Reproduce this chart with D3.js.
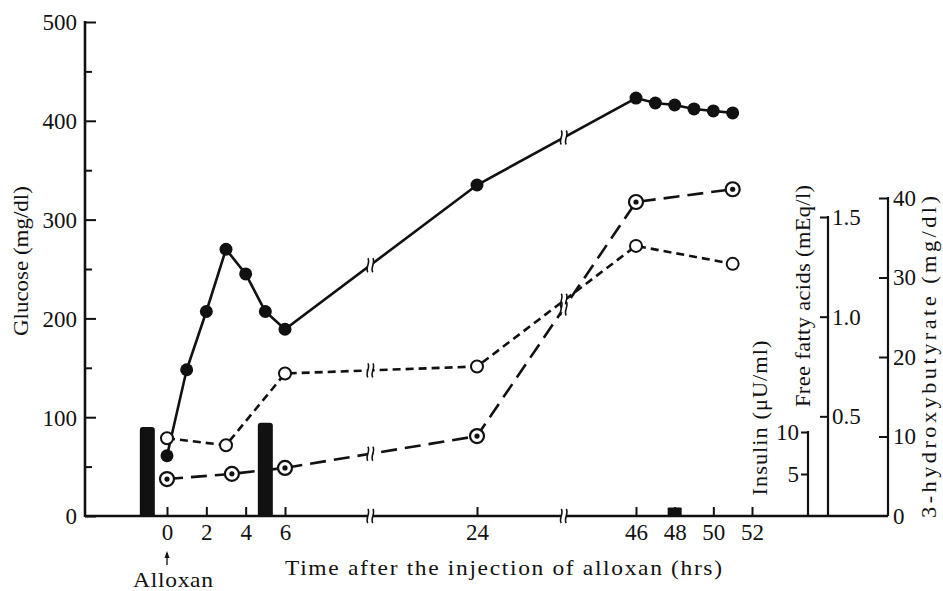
<!DOCTYPE html>
<html>
<head>
<meta charset="utf-8">
<script src="https://cdn.jsdelivr.net/npm/d3@7"></script>
<style>
  body { margin: 0; background: #fff; }
  svg text { font-family: "Liberation Serif", "DejaVu Serif", serif; fill: #111; }
</style>
</head>
<body>
<svg id="chart" width="943" height="591"></svg>
<script>
// --- data ---
const glucoseHours = [0, 1, 2, 3, 4, 5, 6, 24, 46, 47, 48, 49, 50, 51];
const glucose = [61, 148, 207, 270, 245, 207, 189, 335, 423, 418, 416, 412, 410, 408];

const ffaHours = [0, 3, 6, 24, 46, 51];
const ffa = [0.39, 0.355, 0.715, 0.75, 1.355, 1.265];

const hbHours = [0, 3.3, 6, 24, 46, 51];
const hydroxy = [4.65, 5.3, 6.05, 10.05, 39.5, 41.1];

const insulinHours = [-1, 5, 48];
const insulin = [10.6, 11.1, 1.0];

const xTicks = [0, 2, 4, 6, 24, 46, 48, 50, 52];
const breakHours = [14, 36];
const glucoseTicks = [0, 100, 200, 300, 400, 500];
const glucoseMinor = [50, 150, 250, 350, 450];
const ffaTicks = [0.5, 1.0, 1.5];
const hbTicks = [0, 10, 20, 30, 40];
const insulinTicks = [5, 10];

const svg = d3.select("#chart");
const ink = "#111";

// --- scales (x axis is broken between 6-24 and 24-46 h) ---
const x = d3.scaleLinear()
  .domain([0, 6, 24, 46, 52])
  .range([167, 285, 477, 636, 752]);
const y = d3.scaleLinear().domain([0, 500]).range([516, 22]);
const yFfa = d3.scaleLinear().domain([0, 1.5]).range([516, 217]);
const yHb = d3.scaleLinear().domain([0, 40]).range([516, 198]);
const yIns = d3.scaleLinear().domain([0, 10]).range([516, 432]);

const baseY = 516;
const axisLeftX = 85;
const axisRightEnd = 888;

function styleAxis(g) {
  g.attr("font-size", null).attr("font-family", null);
  g.selectAll("line").attr("stroke", ink).attr("stroke-width", 2);
  g.selectAll("path.domain").remove();
  g.selectAll("text").style("font-size", "23px").attr("fill", ink);
}

// the print face is wide and loosely set: stretch a little, then space out to `len` px
function label(tx, ty, rot, len, size, txt, anchor) {
  const t = svg.append("text")
    .attr("text-anchor", anchor || "middle")
    .style("font-size", size + "px")
    .text(txt);
  const s = Math.min(len / t.node().getComputedTextLength(), 1.12);
  t.attr("textLength", len / s).attr("lengthAdjust", "spacing")
    .attr("transform", `translate(${tx},${ty}) rotate(${rot}) scale(${s},1)`);
  return t;
}

// --- insulin bars ---
svg.append("g").selectAll("path")
  .data(insulinHours.map((h, i) => ({ h, v: insulin[i] })))
  .enter().append("path")
  .attr("fill", ink)
  .attr("d", d => {
    const cx = x(d.h), w = d.v > 5 ? 15 : 14, top = yIns(d.v), r = d.v > 5 ? 3 : 1;
    return `M${cx - w / 2},${baseY} L${cx - w / 2},${top + r} Q${cx - w / 2},${top} ${cx - w / 2 + r},${top}
            L${cx + w / 2 - r},${top} Q${cx + w / 2},${top} ${cx + w / 2},${top + r} L${cx + w / 2},${baseY} Z`;
  });

// --- left glucose axis ---
const gY = svg.append("g")
  .attr("transform", `translate(${axisLeftX},0)`)
  .call(d3.axisLeft(y).tickValues(glucoseTicks).tickSizeInner(-11).tickSizeOuter(0).tickPadding(9));
styleAxis(gY);
gY.selectAll("text").attr("x", -8).attr("dy", "0.34em");

svg.append("g")
  .attr("transform", `translate(${axisLeftX},0)`)
  .call(d3.axisLeft(y).tickValues(glucoseMinor).tickSizeInner(-7).tickSizeOuter(0).tickFormat(""))
  .call(styleAxis);

svg.append("line")
  .attr("x1", axisLeftX).attr("x2", axisLeftX)
  .attr("y1", y(500) - 1).attr("y2", baseY + 1)
  .attr("stroke", ink).attr("stroke-width", 2.6);

label(28, y(258), -90, 150, 21, "Glucose (mg/dl)");

// --- bottom time axis ---
const gX = svg.append("g")
  .attr("transform", `translate(0,${baseY})`)
  .call(d3.axisBottom(x).tickValues(xTicks).tickSizeInner(-9).tickSizeOuter(0).tickPadding(8));
styleAxis(gX);

svg.append("line")
  .attr("x1", axisLeftX).attr("x2", axisRightEnd)
  .attr("y1", baseY).attr("y2", baseY)
  .attr("stroke", ink).attr("stroke-width", 2.6);

// break marks: two small S strokes over a white gap
function breakMark(cx, cy) {
  const g = svg.append("g").attr("transform", `translate(${cx},${cy})`);
  g.append("rect").attr("x", -2.5).attr("y", -4).attr("width", 5).attr("height", 8).attr("fill", "#fff");
  [-2.5, 2.5].forEach(dx => {
    g.append("path")
      .attr("d", `M${dx},-7 C${dx + 3},-3 ${dx - 3},3 ${dx},7`)
      .attr("fill", "none").attr("stroke", ink).attr("stroke-width", 1.6);
  });
}
breakHours.forEach(h => breakMark(x(h), baseY));

label(285, 575, 0, 437, 21, "Time after the injection of alloxan (hrs)", "start");

// alloxan arrow
svg.append("line")
  .attr("x1", x(0)).attr("x2", x(0)).attr("y1", 565).attr("y2", 553)
  .attr("stroke", ink).attr("stroke-width", 1.3);
svg.append("path")
  .attr("d", `M${x(0) - 2.5},${558} L${x(0)},${551} L${x(0) + 2.5},${558} Z`)
  .attr("fill", ink);
label(173, 587, 0, 80, 21, "Alloxan");

// --- right axes ---
const insX = 808, ffaX = 828, hbX = 888;

const gIns = svg.append("g")
  .attr("transform", `translate(${insX},0)`)
  .call(d3.axisLeft(yIns).tickValues(insulinTicks).tickSizeInner(7).tickSizeOuter(0).tickPadding(2));
styleAxis(gIns);
svg.append("line").attr("x1", insX).attr("x2", insX).attr("y1", yIns(10) - 1).attr("y2", baseY)
  .attr("stroke", ink).attr("stroke-width", 2.2);

const gF = svg.append("g")
  .attr("transform", `translate(${ffaX},0)`)
  .call(d3.axisRight(yFfa).tickValues(ffaTicks).tickSizeInner(-8).tickSizeOuter(0).tickPadding(4)
    .tickFormat(d3.format(".1f")));
styleAxis(gF);
svg.append("line").attr("x1", ffaX).attr("x2", ffaX).attr("y1", yFfa(1.5) - 1).attr("y2", baseY)
  .attr("stroke", ink).attr("stroke-width", 2.2);

const gH = svg.append("g")
  .attr("transform", `translate(${hbX},0)`)
  .call(d3.axisRight(yHb).tickValues(hbTicks).tickSizeInner(-9).tickSizeOuter(0).tickPadding(5));
styleAxis(gH);
gH.selectAll(".tick").filter(d => d === 0).select("line").remove();
svg.append("line").attr("x1", hbX).attr("x2", hbX).attr("y1", yHb(40) - 1).attr("y2", baseY)
  .attr("stroke", ink).attr("stroke-width", 2.2);

label(767, 418, -90, 155, 20, "Insulin (\u03bcU/ml)");
label(810, 296, -90, 222, 20, "Free fatty acids (mEq/l)");
label(936, 357, -90, 322, 20, "3-hydroxybutyrate (mg/dl)");

// --- series ---
const glucosePts = glucoseHours.map((h, i) => [x(h), y(glucose[i])]);
const ffaPts = ffaHours.map((h, i) => [x(h), yFfa(ffa[i])]);
const hbPts = hbHours.map((h, i) => [x(h), yHb(hydroxy[i])]);

const line = d3.line();
svg.append("path").attr("d", line(glucosePts))
  .attr("fill", "none").attr("stroke", ink).attr("stroke-width", 2.6);
svg.append("path").attr("d", line(ffaPts))
  .attr("fill", "none").attr("stroke", ink).attr("stroke-width", 2.6)
  .attr("stroke-dasharray", "8,5");
svg.append("path").attr("d", line(hbPts))
  .attr("fill", "none").attr("stroke", ink).attr("stroke-width", 2.6)
  .attr("stroke-dasharray", "16,8");

// break symbols on each line where it crosses the axis breaks
function breakOnSeries(hours, vals, scale) {
  breakHours.forEach(bh => {
    const i = hours.findIndex(h => h > bh);
    const t = (bh - hours[i - 1]) / (hours[i] - hours[i - 1]);
    const v = vals[i - 1] + t * (vals[i] - vals[i - 1]);
    breakMark(x(bh), scale(v));
  });
}
breakOnSeries(glucoseHours, glucose, y);
breakOnSeries(ffaHours, ffa, yFfa);
breakOnSeries(hbHours, hydroxy, yHb);

// markers
svg.append("g").selectAll("circle")
  .data(ffaPts).enter().append("circle")
  .attr("cx", d => d[0]).attr("cy", d => d[1]).attr("r", 6)
  .attr("fill", "#fff").attr("stroke", ink).attr("stroke-width", 2);

const hbG = svg.append("g").selectAll("g")
  .data(hbPts).enter().append("g")
  .attr("transform", d => `translate(${d[0]},${d[1]})`);
hbG.append("circle").attr("r", 7).attr("fill", "#fff").attr("stroke", ink).attr("stroke-width", 2.2);
hbG.append("circle").attr("r", 2.6).attr("fill", ink);

svg.append("g").selectAll("circle")
  .data(glucosePts).enter().append("circle")
  .attr("cx", d => d[0]).attr("cy", d => d[1]).attr("r", 6.5)
  .attr("fill", ink);
</script>
</body>
</html>
